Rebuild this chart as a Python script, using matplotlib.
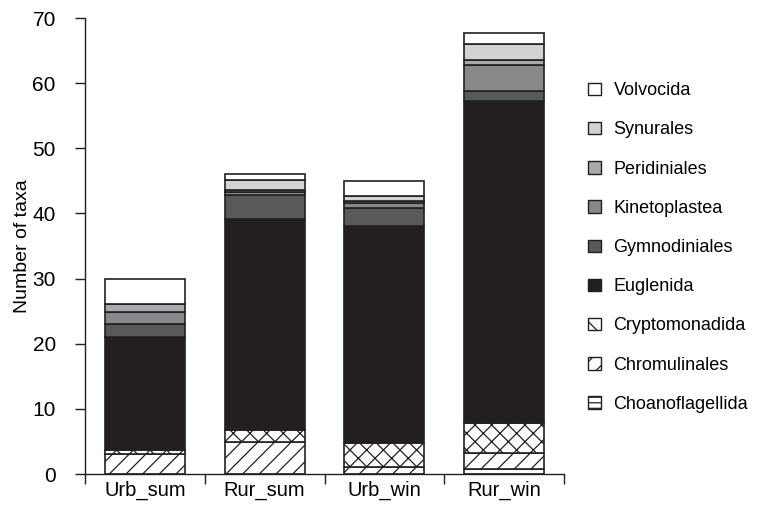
import matplotlib
matplotlib.use("Agg")
import matplotlib.pyplot as plt
import numpy as np
from matplotlib.patches import Patch

plt.rcParams['font.family'] = ['Liberation Sans', 'DejaVu Sans']
plt.rcParams['hatch.linewidth'] = 0.9
plt.rcParams['hatch.color'] = '#231f20'

sites = ["Urb_sum", "Rur_sum", "Urb_win", "Rur_win"]
groups = ["Choanoflagellida", "Chromulinales", "Cryptomonadida", "Euglenida",
          "Gymnodiniales", "Kinetoplastea", "Peridiniales", "Synurales", "Volvocida"]

choanoflagellida = [0.0, 0.0, 0.0, 0.8]
chromulinales = [3.1, 4.85, 1.0, 2.5]
cryptomonadida = [0.6, 1.9, 3.7, 4.5]
euglenida = [17.4, 32.35, 33.4, 49.4]
gymnodiniales = [1.9, 3.8, 2.8, 1.65]
kinetoplastea = [1.8, 0.35, 0.75, 4.0]
peridiniales = [1.25, 0.35, 0.3, 0.75]
synurales = [0.0, 1.5, 0.75, 2.45]
volvocida = [3.95, 0.9, 2.3, 1.6]

series = [choanoflagellida, chromulinales, cryptomonadida, euglenida,
          gymnodiniales, kinetoplastea, peridiniales, synurales, volvocida]

ink = '#231f20'
styles = [
    dict(facecolor='white', hatch='-'),
    dict(facecolor='white', hatch='//'),
    dict(facecolor='white', hatch='xx'),
    dict(facecolor=ink, hatch=None),
    dict(facecolor='#58595b', hatch=None),
    dict(facecolor='#87888a', hatch=None),
    dict(facecolor='#a7a9ac', hatch=None),
    dict(facecolor='#d1d3d4', hatch=None),
    dict(facecolor='white', hatch=None),
]
legend_hatches = ['---', '//', 'x', None, None, None, None, None, None]

fig = plt.figure(figsize=(7.62, 5.2), dpi=100)
ax = fig.add_axes([85/762, 46/520, (564-85)/762, (474-18)/520])

x = np.arange(len(sites))
bottom = np.zeros(len(sites))
for name, vals, st in zip(groups, series, styles):
    v = np.array(vals)
    ax.bar(x, v, width=0.67, bottom=bottom, color=st['facecolor'],
           hatch=st['hatch'], edgecolor=ink, linewidth=1.2, label=name)
    bottom += v

ax.set_xlim(-0.5, 3.5)
ax.set_ylim(0, 70)
ax.set_yticks(np.arange(0, 71, 10))
ax.set_xticks(x)
ax.set_xticklabels(sites)
ax.set_xticks(np.arange(-0.5, 3.6, 1), minor=True)
ax.tick_params(axis='x', which='major', length=0, pad=5, labelsize=14.5)
ax.tick_params(axis='x', which='minor', length=7, width=1, color=ink)
ax.tick_params(axis='y', length=7, width=1, color=ink, labelsize=15, pad=14)
for s in ['top', 'right']:
    ax.spines[s].set_visible(False)
for s in ['left', 'bottom']:
    ax.spines[s].set_color(ink)
    ax.spines[s].set_linewidth(1)
ax.set_ylabel("Number of taxa", fontsize=14, labelpad=1)

handles = [Patch(facecolor=st['facecolor'], hatch=lh, edgecolor=ink,
                 linewidth=1.0, label=name)
           for name, st, lh in zip(groups, styles, legend_hatches)]
leg = fig.legend(handles[::-1], groups[::-1], loc='upper left',
                 bbox_to_anchor=(581/762, 1 - 75/520), frameon=False,
                 fontsize=13, handlelength=0.68, handleheight=0.68,
                 handletextpad=0.72, labelspacing=1.23, borderaxespad=0)

fig.savefig("out.png", dpi=100)
